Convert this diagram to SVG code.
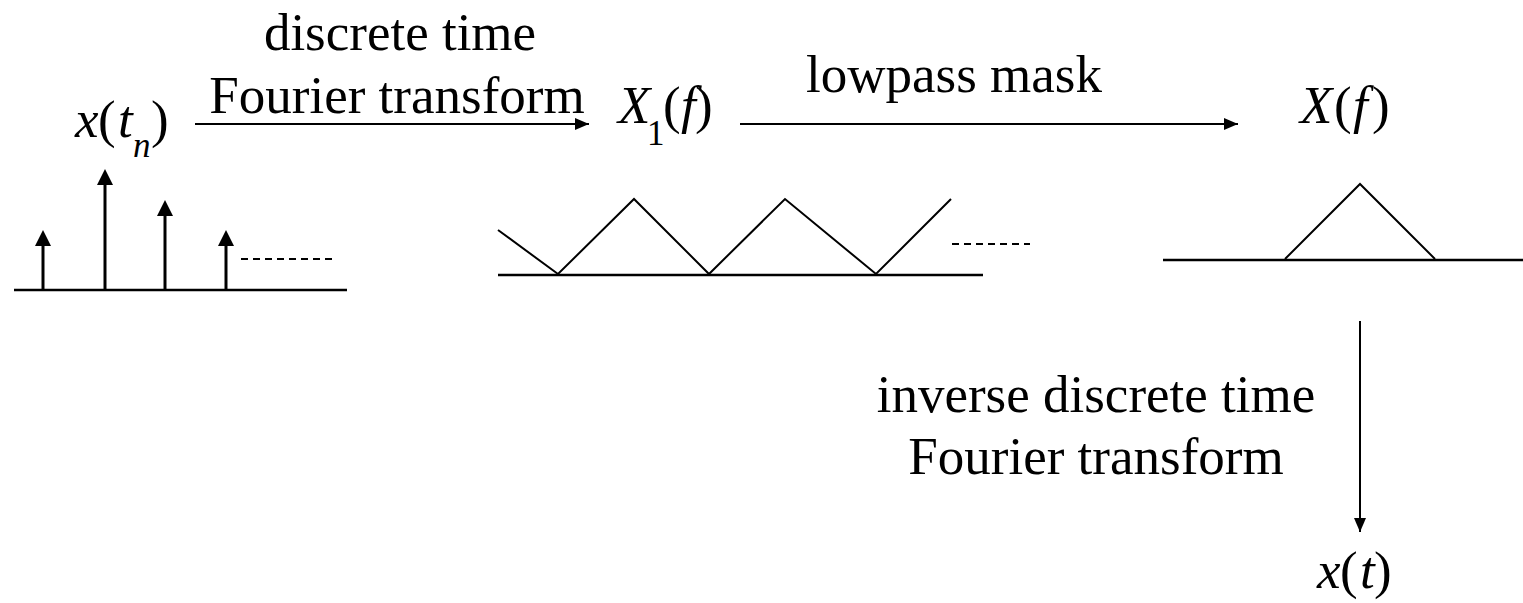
<svg xmlns="http://www.w3.org/2000/svg" width="1523" height="603" viewBox="0 0 1523 603">
<style>
text{font-family:'Liberation Serif','Times New Roman',Times,'DejaVu Serif',serif;font-size:53px;fill:#000}
.i{font-style:italic}
.sub{font-size:35px}
.ax{stroke:#000;stroke-width:2.5;fill:none}
.ln{stroke:#000;stroke-width:2;fill:none}
.dash{stroke:#000;stroke-width:2;stroke-dasharray:7,5;fill:none}
.conn{stroke:#000;stroke-width:2;fill:none;marker-end:url(#ah)}
.stem{stroke:#000;stroke-width:3;fill:none}
</style>
<defs>
<marker id="ah" markerWidth="14" markerHeight="12" refX="14" refY="6" orient="auto" markerUnits="userSpaceOnUse">
<path d="M0,0 L14,6 L0,12 Z" fill="#000"/>
</marker>
</defs>
<g id="connectors">
<line class="conn" x1="195" y1="124" x2="589" y2="124"/>
<line class="conn" x1="740" y1="124" x2="1238" y2="124"/>
<line class="conn" x1="1360" y1="321" x2="1360" y2="532"/>
</g>
<g id="label-dtft">
<text x="400" y="50" text-anchor="middle">discrete time</text>
<text x="397" y="113" text-anchor="middle">Fourier transform</text>
</g>
<g id="label-lowpass">
<text x="954" y="92" text-anchor="middle">lowpass mask</text>
</g>
<g id="label-idtft">
<text x="1096" y="412" text-anchor="middle">inverse discrete time</text>
<text x="1096" y="474" text-anchor="middle">Fourier transform</text>
</g>
<g id="node-xtn">
<text y="137"><tspan class="i" x="75">x</tspan><tspan x="98">(</tspan><tspan class="i" x="118">t</tspan><tspan class="i sub" x="133" y="157">n</tspan><tspan x="151" y="137">)</tspan></text>
<line class="ax" x1="14" y1="290" x2="347" y2="290"/>
<g fill="#000">
<line class="stem" x1="43" y1="290" x2="43" y2="240"/><path d="M35,246 L43,230 L51,246 Z"/>
<line class="stem" x1="105" y1="290" x2="105" y2="180"/><path d="M97,185 L105,169 L113,185 Z"/>
<line class="stem" x1="165" y1="290" x2="165" y2="210"/><path d="M157,216 L165,200 L173,216 Z"/>
<line class="stem" x1="226" y1="290" x2="226" y2="240"/><path d="M218,246 L226,230 L234,246 Z"/>
</g>
<line class="dash" x1="241" y1="259" x2="333" y2="259"/>
</g>
<g id="node-X1f">
<text y="123"><tspan class="i" x="618">X</tspan><tspan class="sub" x="647" y="145">1</tspan><tspan x="663" y="123">(</tspan><tspan class="i" x="681">f</tspan><tspan x="695">)</tspan></text>
<line class="ax" x1="498" y1="275" x2="983" y2="275"/>
<polyline class="ln" points="498,230 558,274 634,199 709,274 785,199 876,274 951,199"/>
<line class="dash" x1="952" y1="244" x2="1030" y2="244"/>
</g>
<g id="node-Xf">
<text y="123"><tspan class="i" x="1300">X</tspan><tspan x="1334">(</tspan><tspan class="i" x="1353">f</tspan><tspan x="1372">)</tspan></text>
<line class="ax" x1="1163" y1="260" x2="1523" y2="260"/>
<polyline class="ln" points="1285,259 1360,184 1435,259"/>
</g>
<g id="node-xt">
<text y="588"><tspan class="i" x="1317">x</tspan><tspan x="1340">(</tspan><tspan class="i" x="1360">t</tspan><tspan x="1374">)</tspan></text>
</g>
</svg>
